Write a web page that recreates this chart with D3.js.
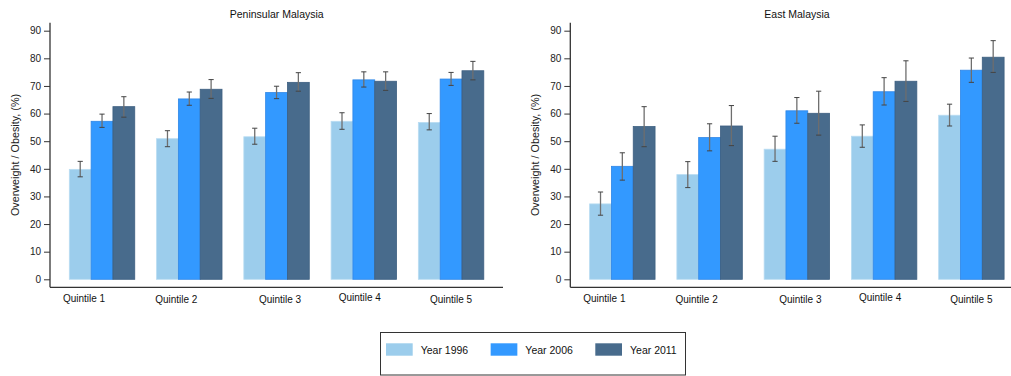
<!DOCTYPE html>
<html>
<head>
<meta charset="utf-8">
<script src="https://cdn.jsdelivr.net/npm/d3@7"></script>
<style>
  html, body { margin: 0; padding: 0; background: #fff; }
  svg { display: block; font-family: "Liberation Sans", Arial, sans-serif; }
</style>
</head>
<body>
<svg id="chart" width="1011" height="376"></svg>
<script>
// Income quintiles and survey years
const quintiles = ["Quintile 1", "Quintile 2", "Quintile 3", "Quintile 4", "Quintile 5"];
const years = ["Year 1996", "Year 2006", "Year 2011"];
const yTicks = [0, 10, 20, 30, 40, 50, 60, 70, 80, 90];

// Peninsular Malaysia: prevalence (%) with 95% CI bounds
const penVal1996 = [39.8, 50.9, 51.6, 57.2, 56.8];
const penVal2006 = [57.2, 65.3, 67.6, 72.2, 72.5];
const penVal2011 = [62.5, 68.8, 71.3, 71.7, 75.5];
const penLow1996 = [37.1, 48.0, 48.9, 54.3, 54.1];
const penHigh1996 = [42.7, 53.8, 54.7, 60.3, 60.0];
const penLow2006 = [55.0, 63.0, 65.4, 69.6, 70.2];
const penHigh2006 = [59.8, 67.8, 69.9, 75.1, 74.9];
const penLow2011 = [58.7, 65.5, 68.1, 68.4, 72.2];
const penHigh2011 = [66.1, 72.3, 74.8, 75.1, 78.9];

// East Malaysia: prevalence (%) with 95% CI bounds
const eastVal1996 = [27.3, 37.9, 47.1, 51.8, 59.4];
const eastVal2006 = [40.9, 51.3, 61.0, 67.9, 75.7];
const eastVal2011 = [55.3, 55.5, 60.1, 71.7, 80.4];
const eastLow1996 = [23.2, 33.2, 42.7, 47.8, 55.5];
const eastHigh1996 = [31.6, 42.6, 51.8, 55.9, 63.4];
const eastLow2006 = [35.9, 46.5, 56.5, 63.1, 71.3];
const eastHigh2006 = [45.8, 56.3, 65.8, 73.0, 80.1];
const eastLow2011 = [48.0, 48.4, 52.2, 64.4, 74.9];
const eastHigh2011 = [62.5, 62.9, 68.1, 79.1, 86.4];

const colors = ["#9ccdec", "#3399ff", "#486b8c"];
const edgeColors = ["#b9dcf2", "#2f86e6", "#3d5f80"];

function buildRows(vals, lows, highs) {
  const rows = [];
  quintiles.forEach((q, i) => {
    years.forEach((yr, j) => {
      rows.push({ q, yr, j, v: vals[j][i], lo: lows[j][i], hi: highs[j][i] });
    });
  });
  return rows;
}

const panels = [
  { title: "Peninsular Malaysia", dx: 0,
    rows: buildRows([penVal1996, penVal2006, penVal2011],
                    [penLow1996, penLow2006, penLow2011],
                    [penHigh1996, penHigh2006, penHigh2011]) },
  { title: "East Malaysia", dx: 520.3,
    rows: buildRows([eastVal1996, eastVal2006, eastVal2011],
                    [eastLow1996, eastLow2006, eastLow2011],
                    [eastHigh1996, eastHigh2006, eastHigh2011]) }
];

const svg = d3.select("#chart");
const axisX = 50, axisTop = 22.7, axisBottom = 287.3, axisRight = 503;

const y = d3.scaleLinear().domain([0, 90]).range([279.3, 30.7]);
const x0 = d3.scaleBand().domain(quintiles).range([58.4, 494.7])
  .paddingInner(0.25).paddingOuter(0.125);
const x1 = d3.scaleBand().domain(years).range([0, x0.bandwidth()]);

// small per-label placement tweaks for the category captions
const labelDx = [-18, -13, 3.5, -4, 0];
const labelDy = [0, 1, 1, -1, 1];

panels.forEach(p => {
  const g = svg.append("g").attr("transform", `translate(${p.dx},0)`);

  g.append("text")
    .attr("x", 276.7).attr("y", 18)
    .attr("text-anchor", "middle")
    .attr("font-size", 10.5).attr("fill", "#111")
    .text(p.title);

  // y axis
  const ya = g.append("g").attr("transform", `translate(${axisX},0)`)
    .call(d3.axisLeft(y).tickValues(yTicks).tickSize(6).tickPadding(3).tickSizeOuter(0));
  ya.select(".domain").remove();
  ya.selectAll(".tick line").attr("stroke", "#333");
  ya.selectAll(".tick text").attr("font-size", 10).attr("fill", "#222")
    .attr("font-family", "Liberation Sans, Arial, sans-serif");

  g.append("line")
    .attr("x1", axisX).attr("x2", axisX)
    .attr("y1", axisTop).attr("y2", axisBottom)
    .attr("stroke", "#333").attr("stroke-width", 1.3);
  g.append("line")
    .attr("x1", axisX).attr("x2", axisRight)
    .attr("y1", axisBottom).attr("y2", axisBottom)
    .attr("stroke", "#333").attr("stroke-width", 1.3);

  g.append("text")
    .attr("transform", "translate(15,155) rotate(-90)")
    .attr("text-anchor", "middle").attr("dominant-baseline", "central")
    .attr("font-size", 10.8).attr("fill", "#222")
    .text("Overweight / Obesity, (%)");

  // bars
  g.selectAll("rect.bar").data(p.rows).join("rect")
    .attr("class", "bar")
    .attr("x", d => x0(d.q) + x1(d.yr))
    .attr("width", x1.bandwidth())
    .attr("y", d => y(d.v))
    .attr("height", d => y(0) - y(d.v))
    .attr("fill", d => colors[d.j])
    .attr("stroke", d => edgeColors[d.j])
    .attr("stroke-width", 0.8);

  // confidence intervals
  const eb = g.selectAll("g.err").data(p.rows).join("g").attr("class", "err");
  const cx = d => x0(d.q) + x1(d.yr) + x1.bandwidth() / 2;
  eb.append("line")
    .attr("x1", cx).attr("x2", cx)
    .attr("y1", d => y(d.hi)).attr("y2", d => y(d.lo))
    .attr("stroke", "#6e6e6e").attr("stroke-width", 1.3);
  eb.append("line")
    .attr("x1", d => cx(d) - 2.6).attr("x2", d => cx(d) + 2.6)
    .attr("y1", d => y(d.hi)).attr("y2", d => y(d.hi))
    .attr("stroke", "#444").attr("stroke-width", 1);
  eb.append("line")
    .attr("x1", d => cx(d) - 2.6).attr("x2", d => cx(d) + 2.6)
    .attr("y1", d => y(d.lo)).attr("y2", d => y(d.lo))
    .attr("stroke", "#444").attr("stroke-width", 1);

  // category captions
  g.selectAll("text.qlab").data(quintiles).join("text")
    .attr("class", "qlab")
    .attr("x", (d, i) => x0(d) + x0.bandwidth() / 2 + labelDx[i])
    .attr("y", (d, i) => 302 + labelDy[i])
    .attr("text-anchor", "middle")
    .attr("font-size", 10).attr("fill", "#111")
    .text(d => d);
});

// legend
const legend = svg.append("g");
legend.append("rect")
  .attr("x", 380.5).attr("y", 332.5).attr("width", 305).attr("height", 42.5)
  .attr("fill", "#fff").attr("stroke", "#333").attr("stroke-width", 1);
const lx = d3.scalePoint().domain(years).range([386, 595.3]);
const li = legend.selectAll("g.item").data(years).join("g").attr("class", "item");
li.append("rect")
  .attr("x", d => lx(d)).attr("y", 343.3)
  .attr("width", 26.7).attr("height", 12.4)
  .attr("fill", (d, i) => colors[i]);
li.append("text")
  .attr("x", d => lx(d) + 34.7).attr("y", 354.3)
  .attr("font-size", 10.5).attr("fill", "#111")
  .text(d => d);
</script>
</body>
</html>
